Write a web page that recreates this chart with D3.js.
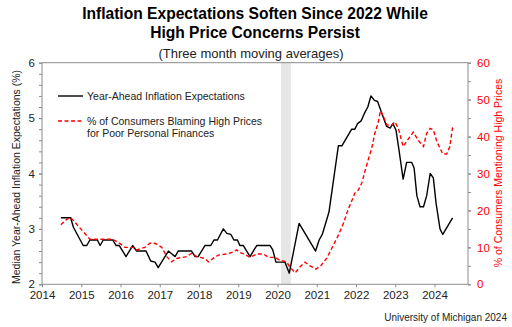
<!DOCTYPE html>
<html>
<head>
<meta charset="utf-8">
<script src="https://cdn.jsdelivr.net/npm/d3@7"></script>
<style>
  body { margin: 0; background: #fff; }
  svg text { font-family: "Liberation Sans", Arial, sans-serif; }
</style>
</head>
<body>
<div id="chartDiv"></div>
<script>
// expectations line (left axis, %)
var expYears = [2014.48, 2014.73, 2014.80, 2015.05, 2015.14, 2015.22, 2015.41, 2015.48, 2015.56, 2015.80,
    2015.89, 2015.97, 2016.14, 2016.31, 2016.41, 2016.65, 2016.77, 2016.88, 2016.96, 2017.22,
    2017.39, 2017.47, 2017.81, 2017.90, 2017.98, 2018.15, 2018.30, 2018.38, 2018.47, 2018.62,
    2018.71, 2018.81, 2018.89, 2018.98, 2019.04, 2019.13, 2019.30, 2019.47, 2019.81, 2019.88,
    2019.96, 2020.19, 2020.30, 2020.55, 2020.97, 2021.06, 2021.14, 2021.31, 2021.55, 2021.64,
    2021.89, 2021.97, 2022.04, 2022.13, 2022.21, 2022.30, 2022.38, 2022.47, 2022.55, 2022.65,
    2022.78, 2022.87, 2022.94, 2023.02, 2023.10, 2023.20, 2023.29, 2023.42, 2023.48, 2023.55,
    2023.63, 2023.72, 2023.80, 2023.89, 2023.97, 2024.04, 2024.14, 2024.21, 2024.46];
var expValues = [3.2, 3.2, 3.03, 2.7, 2.7, 2.8, 2.8, 2.7, 2.8, 2.8,
    2.7, 2.7, 2.5, 2.7, 2.6, 2.6, 2.42, 2.4, 2.3, 2.6,
    2.5, 2.6, 2.6, 2.5, 2.5, 2.7, 2.7, 2.8, 2.8, 3.0,
    2.92, 2.9, 2.8, 2.8, 2.7, 2.7, 2.5, 2.7, 2.7, 2.62,
    2.4, 2.4, 2.2, 3.1, 2.6, 2.8, 2.9, 3.3, 4.5, 4.5,
    4.8, 4.8, 4.9, 4.95, 5.08, 5.2, 5.4, 5.32, 5.3, 5.1,
    4.85, 4.82, 4.9, 4.78, 4.4, 3.9, 4.2, 4.2, 4.1, 3.6,
    3.4, 3.4, 3.6, 4.0, 3.92, 3.46, 3.0, 2.9, 3.2];

// high prices line (right axis, % of consumers)
var priceYears = [2014.48, 2014.63, 2014.73, 2015.22, 2015.80, 2015.99, 2016.11, 2016.33, 2016.41, 2016.62,
    2016.75, 2016.88, 2017.05, 2017.18, 2017.30, 2017.43, 2017.69, 2017.81, 2017.94, 2018.15,
    2018.24, 2018.36, 2018.49, 2018.71, 2018.83, 2018.96, 2019.04, 2019.15, 2019.30, 2019.47,
    2019.64, 2019.77, 2019.94, 2020.06, 2020.23, 2020.32, 2020.45, 2020.57, 2020.70, 2020.83,
    2020.98, 2021.11, 2021.25, 2021.38, 2021.55, 2021.68, 2021.80, 2021.90, 2021.97, 2022.06,
    2022.15, 2022.23, 2022.31, 2022.40, 2022.48, 2022.57, 2022.62, 2022.70, 2022.79, 2022.91,
    2022.99, 2023.08, 2023.20, 2023.33, 2023.46, 2023.59, 2023.72, 2023.80, 2023.89, 2023.97,
    2024.06, 2024.21, 2024.31, 2024.39, 2024.46];
var priceValues = [16.1, 17.6, 18.1, 12.2, 12.2, 11.0, 10.0, 10.0, 9.3, 10.0,
    11.1, 11.1, 10.0, 7.5, 6.1, 7.0, 7.5, 8.4, 7.5, 7.0,
    6.1, 7.0, 7.9, 8.2, 8.6, 9.3, 8.6, 8.2, 7.3, 8.2,
    8.2, 7.3, 7.3, 6.5, 6.1, 4.6, 3.1, 4.7, 6.0, 5.0,
    4.1, 5.1, 7.0, 9.7, 13.3, 16.5, 20.3, 22.8, 24.7, 25.5,
    27.5, 30.7, 33.7, 36.8, 40.9, 44.0, 47.0, 45.4, 43.1, 43.1,
    44.0, 42.2, 37.3, 39.3, 41.2, 38.9, 37.3, 40.9, 42.2, 41.8,
    38.6, 35.3, 35.3, 37.3, 42.5];

var recession = [2020.09, 2020.34];
var yearTicks = [2014, 2015, 2016, 2017, 2018, 2019, 2020, 2021, 2022, 2023, 2024];
var leftTicks = [2, 3, 4, 5, 6];
var rightTicks = [0, 10, 20, 30, 40, 50, 60];

var titleLines = ["Inflation Expectations Soften Since 2022 While", "High Price Concerns Persist"];
var subtitle = "(Three month moving averages)";
var leftLabel = "Median Year-Ahead Inflation Expectations (%)";
var rightLabel = "% of Consumers Mentioning High Prices";
var legendLabels = [["Year-Ahead Inflation Expectations"],
                    ["% of Consumers Blaming High Prices", "for Poor Personal Finances"]];
var source = "University of Michigan 2024";

var width = 512, height = 327;
var plotLeft = 42, plotRight = 468, plotTop = 62.7, plotBottom = 284.3;
var axisColor = "#8c8c8c";

var svg = d3.select("#chartDiv").append("svg")
    .attr("width", width)
    .attr("height", height);

var xScale = d3.scaleLinear().domain([2014, 2024.853]).range([plotLeft, plotRight]);
var yLeft = d3.scaleLinear().domain([2, 6]).range([plotBottom, plotTop]);
var yRight = d3.scaleLinear().domain([0, 60]).range([plotBottom, plotTop]);

// titles
svg.selectAll("text.title")
   .data(titleLines)
   .enter()
   .append("text")
   .attr("class", "title")
   .attr("x", 255)
   .attr("y", function(d, i) { return 18.5 + i * 19; })
   .attr("text-anchor", "middle")
   .attr("font-size", "15.6px")
   .attr("font-weight", "bold")
   .text(function(d) { return d; });

svg.append("text")
   .attr("x", 251)
   .attr("y", 58)
   .attr("text-anchor", "middle")
   .attr("font-size", "13px")
   .attr("fill", "#222")
   .text(subtitle);

// recession band
svg.append("rect")
   .attr("x", xScale(recession[0]))
   .attr("y", plotTop)
   .attr("width", xScale(recession[1]) - xScale(recession[0]))
   .attr("height", plotBottom - plotTop)
   .attr("fill", "#e6e6e6");

// frame
svg.append("rect")
   .attr("x", plotLeft)
   .attr("y", plotTop)
   .attr("width", plotRight - plotLeft)
   .attr("height", plotBottom - plotTop)
   .attr("fill", "none")
   .attr("stroke", axisColor)
   .attr("stroke-width", 1);

// axes
var xAxis = d3.axisBottom(xScale).tickValues(yearTicks).tickFormat(d3.format("d")).tickSize(3).tickPadding(4);
var gx = svg.append("g").attr("transform", "translate(0," + plotBottom + ")").call(xAxis);

var leftMinor = d3.range(2, 6.001, 0.2);
var gyl = svg.append("g").attr("transform", "translate(" + plotLeft + ",0)")
    .call(d3.axisLeft(yLeft).tickValues(leftMinor).tickFormat("").tickSize(3));
var gylLab = svg.append("g").attr("transform", "translate(" + plotLeft + ",0)")
    .call(d3.axisLeft(yLeft).tickValues(leftTicks).tickFormat(d3.format("d")).tickSize(3).tickPadding(4));

var rightMinor = d3.range(0, 60.001, 5);
var gyr = svg.append("g").attr("transform", "translate(" + plotRight + ",0)")
    .call(d3.axisRight(yRight).tickValues(rightMinor).tickFormat("").tickSize(3));
var gyrLab = svg.append("g").attr("transform", "translate(" + plotRight + ",0)")
    .call(d3.axisRight(yRight).tickValues(rightTicks).tickFormat(d3.format("d")).tickSize(3).tickPadding(6));

[gx, gyl, gylLab, gyr, gyrLab].forEach(function(g) {
    g.select(".domain").remove();
    g.selectAll("line").attr("stroke", axisColor);
    g.selectAll("text").attr("font-size", "11.5px").attr("font-family", "Liberation Sans, Arial, sans-serif");
});
gx.selectAll("text").attr("fill", "#222");
gylLab.selectAll("text").attr("fill", "#222");
gyrLab.selectAll("text").attr("fill", "#ff0000");

// axis titles
svg.append("text")
   .attr("transform", "translate(20,177) rotate(-90)")
   .attr("text-anchor", "middle")
   .attr("font-size", "10.5px")
   .attr("fill", "#222")
   .text(leftLabel);

svg.append("text")
   .attr("transform", "translate(502,173) rotate(-90)")
   .attr("text-anchor", "middle")
   .attr("font-size", "10.5px")
   .attr("fill", "#ff0000")
   .text(rightLabel);

// lines
var expData = expYears.map(function(d, i) { return [d, expValues[i]]; });
var priceData = priceYears.map(function(d, i) { return [d, priceValues[i]]; });

var expLine = d3.line()
    .x(function(d) { return xScale(d[0]); })
    .y(function(d) { return yLeft(d[1]); });
var priceLine = d3.line()
    .x(function(d) { return xScale(d[0]); })
    .y(function(d) { return yRight(d[1]); });

svg.append("path")
   .datum(expData)
   .attr("d", expLine)
   .attr("fill", "none")
   .attr("stroke", "#000")
   .attr("stroke-width", 1.4)
   .attr("stroke-linejoin", "round");

svg.append("path")
   .datum(priceData)
   .attr("d", priceLine)
   .attr("fill", "none")
   .attr("stroke", "#ff0000")
   .attr("stroke-width", 1.4)
   .attr("stroke-dasharray", "4,2.5");

// legend
var legendY = [96, 121];
var legendStyle = [{ stroke: "#000", dash: null }, { stroke: "#ff0000", dash: "4,2.5" }];
legendLabels.forEach(function(lines, i) {
    svg.append("line")
       .attr("x1", 58).attr("x2", 83)
       .attr("y1", legendY[i]).attr("y2", legendY[i])
       .attr("stroke", legendStyle[i].stroke)
       .attr("stroke-width", 1.4)
       .attr("stroke-dasharray", legendStyle[i].dash);
    svg.selectAll(null)
       .data(lines)
       .enter()
       .append("text")
       .attr("x", 87)
       .attr("y", function(d, j) { return legendY[i] + 4 + j * 11.5; })
       .attr("font-size", "10.5px")
       .attr("fill", "#222")
       .text(function(d) { return d; });
});

// source
svg.append("text")
   .attr("x", 507)
   .attr("y", 321)
   .attr("text-anchor", "end")
   .attr("font-size", "10px")
   .attr("fill", "#222")
   .text(source);
</script>
</body>
</html>
